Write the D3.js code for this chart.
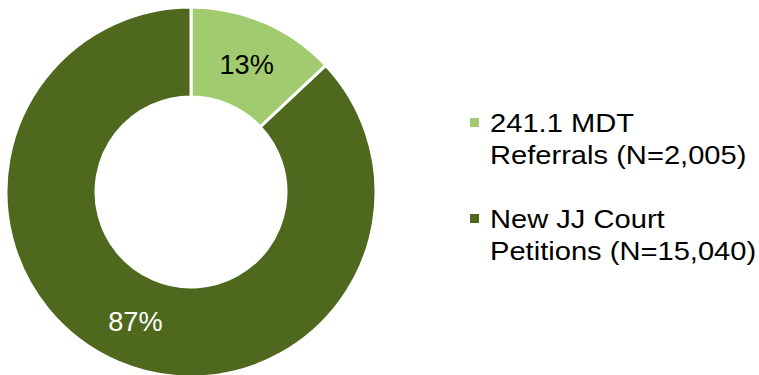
<!DOCTYPE html>
<html>
<head>
<meta charset="utf-8">
<script src="https://cdn.jsdelivr.net/npm/d3@7"></script>
<style>
  body { margin: 0; background: #fff; }
  text { font-family: "Liberation Sans", Arial, sans-serif; }
</style>
</head>
<body>
<div id="chart"></div>
<script>
// pie shares as printed on the chart (percent)
const categories = ['241.1 MDT Referrals (N=2,005)', 'New JJ Court Petitions (N=15,040)'];
const shares = [13, 87];
const legendLines = [['241.1 MDT', 'Referrals (N=2,005)'], ['New JJ Court', 'Petitions (N=15,040)']];
const colors = ['#a2cb6f', '#4e691e'];
const labelColors = ['#000', '#fff'];

const width = 759, height = 375;
const cx = 191, cy = 192;
const outerR = 185, innerR = 95;

const svg = d3.select('#chart').append('svg')
  .attr('width', width)
  .attr('height', height);

const color = d3.scaleOrdinal().domain(categories).range(colors);

const pie = d3.pie().sort(null).value(d => d.v);
const arc = d3.arc().innerRadius(innerR).outerRadius(outerR);
const labelArc = d3.arc().innerRadius((innerR + outerR) / 2).outerRadius((innerR + outerR) / 2);

const data = categories.map((c, i) => ({ name: c, v: shares[i], i: i }));

const g = svg.append('g').attr('transform', `translate(${cx},${cy})`);

g.selectAll('path')
  .data(pie(data))
  .enter()
  .append('path')
  .attr('d', arc)
  .attr('fill', d => color(d.data.name))
  .attr('stroke', '#fff')
  .attr('stroke-width', 3);

g.selectAll('text.pct')
  .data(pie(data))
  .enter()
  .append('text')
  .attr('class', 'pct')
  .attr('transform', d => `translate(${labelArc.centroid(d)}) scale(0.97,1)`)
  .attr('text-anchor', 'middle')
  .attr('dy', '0.36em')
  .attr('font-size', 28)
  .attr('fill', d => labelColors[d.data.i])
  .text(d => d.data.v + '%');

// legend
const legend = svg.append('g').attr('class', 'legend');
const entryY = [132, 228];

const entries = legend.selectAll('.legend-entry')
  .data(data)
  .enter()
  .append('g')
  .attr('class', 'legend-entry')
  .attr('transform', (d, i) => `translate(470,${entryY[i]})`);

entries.append('rect')
  .attr('x', 0)
  .attr('y', -14)
  .attr('width', 9)
  .attr('height', 9)
  .attr('fill', d => color(d.name));

entries.append('text')
  .attr('transform', 'translate(20,0) scale(1.12,1)')
  .attr('font-size', 26)
  .attr('fill', '#000')
  .selectAll('tspan')
  .data(d => legendLines[d.i])
  .enter()
  .append('tspan')
  .attr('x', 0)
  .attr('dy', (d, i) => i === 0 ? 0 : 32.5)
  .text(d => d);
</script>
</body>
</html>
